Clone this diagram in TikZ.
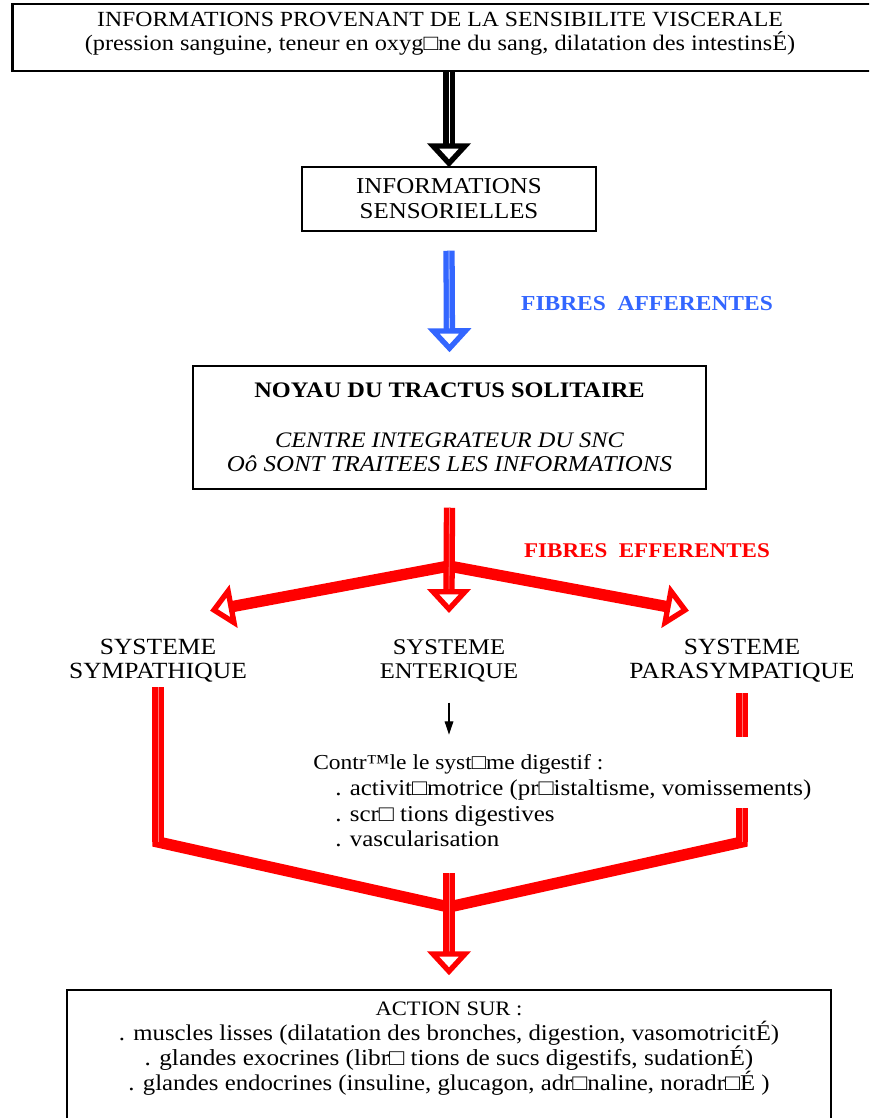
\documentclass[tikz,border=0pt]{standalone}
\usepackage{fontspec}
\setmainfont{Liberation Serif}[FakeStretch=1.1]
\usetikzlibrary{calc,arrows.meta}
\definecolor{afblue}{RGB}{51,102,255}
\definecolor{efred}{RGB}{255,0,0}
\newcommand{\hollowhead}[3]{%
  \draw[headstyle, draw=#1] ($(#2)!12pt!90:(#3)$) -- (#3) -- ($(#2)!12pt!-90:(#3)$) -- cycle;}
\newcommand{\fs}[1]{\fontsize{#1}{18.4}\selectfont}
\begin{document}
\begin{tikzpicture}[x=0.75pt,y=-0.75pt,
  txt/.style={font=\fs{16.8}, align=center, inner sep=0pt},
  box/.style={draw=black, line width=1.1pt, inner sep=0pt, align=center},
  shaft/.style={line width=8.5pt, line cap=butt, line join=miter},
  stripe/.style={postaction={draw, line width=0.6pt, color=#1}},
  headstyle/.style={line width=4pt, fill=white, line join=miter}
]
\useasboundingbox (0,0) rectangle (869,1118);
\clip (0,0) rectangle (869,1118);

% boxes
\node[box, line width=2.2pt, minimum width=710pt, minimum height=50.25pt, anchor=west] (top) at (11,37.5) {};
\node[txt, font=\fontsize{16.2}{17.8}\selectfont] (toptext) at (440,34)
  {INFORMATIONS PROVENANT DE LA SENSIBILITE VISCERALE\\
   {\fontsize{16.6}{17.8}\selectfont (pression sanguine, teneur en oxyg□ne du sang, dilatation des intestinsÉ)}};
\node[box, minimum width=220.5pt, minimum height=48pt, font=\fontsize{17}{18.6}\selectfont] (sens) at (449,199)
  {INFORMATIONS\\SENSORIELLES};
\node[box, minimum width=384.75pt, minimum height=92.25pt, font=\fontsize{16.6}{18.6}\selectfont] (nts) at (449.5,427.5)
  {\textbf{NOYAU DU TRACTUS SOLITAIRE}\\[18.6pt]
   \textit{CENTRE INTEGRATEUR DU SNC}\\
   \textit{\fontsize{17}{18.6}\selectfont Oô SONT TRAITEES LES INFORMATIONS}};
\node[box, minimum width=573pt, minimum height=150pt] (action) at (449,1090) {};

% labels
\node[txt, font=\fontsize{16}{18.4}\selectfont\bfseries, text=afblue] (aff) at (647,304) {FIBRES\ \ AFFERENTES};
\node[txt, font=\fontsize{15.7}{18.4}\selectfont\bfseries, text=efred] (eff) at (647,551) {FIBRES\ \ EFFERENTES};
\node[txt, font=\fontsize{17.4}{18.2}\selectfont] (sym) at (158,661) {SYSTEME\\SYMPATHIQUE};
\node[txt, font=\fontsize{16.8}{18.2}\selectfont] (ent) at (449,661) {SYSTEME\\ENTERIQUE};
\node[txt, font=\fontsize{17.4}{18.2}\selectfont] (para) at (742,661) {SYSTEME\\PARASYMPATIQUE};
\node[txt, align=left, anchor=west, font=\fontsize{17}{19.3}\selectfont] (ctrl) at (313,801)
  {{\fontsize{16}{19.3}\selectfont Contr™le le syst□me digestif :}\\
   \hspace*{16.5pt}. activit□motrice (pr□istaltisme, vomissements)\\
   \hspace*{16.5pt}. scr□ tions digestives\\
   \hspace*{16.5pt}. vascularisation};
\node[txt, font=\fontsize{16.9}{18.8}\selectfont] (acttext) at (449,1049)
  {{\fontsize{15.4}{18.8}\selectfont ACTION SUR :}\\
   . muscles lisses (dilatation des bronches, digestion, vasomotricitÉ)\\
   {\fontsize{17.2}{18.8}\selectfont . glandes exocrines (libr□ tions de sucs digestifs, sudationÉ)}\\
   . glandes endocrines (insuline, glucagon, adr□naline, noradr□É )};

% black arrow
\coordinate (bkS) at (top.south -| sens.north);
\coordinate (bkT) at ($(sens.north)+(0,-3)$);
\coordinate (bkB) at ($(bkT)!13pt!(bkS)$);
\draw[shaft, black, stripe=white] (bkS) -- (bkB);
\hollowhead{black}{bkB}{bkT}

% blue arrow
\coordinate (blS) at ($(sens.south)+(0,19)$);
\coordinate (blT) at ($(nts.north)+(0,-17)$);
\coordinate (blB) at ($(blT)!13pt!(blS)$);
\draw[shaft, afblue, stripe=afblue!35!white] (blS) -- (blB);
\hollowhead{afblue}{blB}{blT}

% red efferent arrows
\coordinate (rdS) at ($(nts.south)+(0,18)$);
\coordinate (J) at (449,566);
\coordinate (Tc) at (449,609);
\coordinate (Tl) at (214,610);
\coordinate (Tr) at (685,610);
\coordinate (Bc) at ($(Tc)!13pt!(J)$);
\coordinate (Bl) at ($(Tl)!13pt!(J)$);
\coordinate (Br) at ($(Tr)!13pt!(J)$);
\draw[shaft, efred] (Bl) -- (J) -- (Br);
\draw[shaft, efred, stripe=efred!55!white] (rdS) -- (Bc);
\hollowhead{efred}{Bc}{Tc}
\hollowhead{efred}{Bl}{Tl}
\hollowhead{efred}{Br}{Tr}

% enteric small arrow
\draw[line width=0.9pt, -{Triangle[length=10pt,width=6.5pt]}] ($(ent.south)+(0,20)$) -- ($(ent.south)+(0,52)$);

% lower red paths
\coordinate (symS) at (158,687);
\coordinate (cl) at (158,842);
\coordinate (J2) at (449,907);
\coordinate (cr) at (742,842);
\coordinate (parB) at (742,808);
\coordinate (paraS) at (742,693);
\coordinate (paraE) at (742,737);
\draw[shaft, efred] (symS) -- (cl) -- (J2) -- (cr) -- (parB);
\draw[shaft, efred, stripe=efred!55!white] (symS) -- (cl);
\draw[shaft, efred, stripe=efred!55!white] (paraS) -- (paraE);
\draw[shaft, efred, stripe=efred!55!white] (parB) -- (cr);
\coordinate (acS) at (449,873);
\coordinate (acT) at ($(action.north)+(0,-18)$);
\coordinate (acB) at ($(acT)!13pt!(acS)$);
\draw[shaft, efred, stripe=efred!55!white] (acS) -- (acB);
\hollowhead{efred}{acB}{acT}
\end{tikzpicture}
\end{document}
